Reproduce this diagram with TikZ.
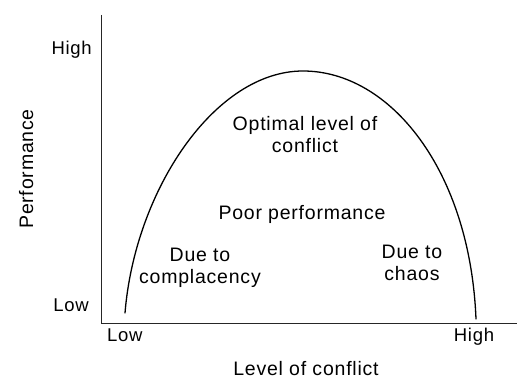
\documentclass[tikz,border=0pt]{standalone}
\usepackage{fontspec}
\setmainfont{Liberation Sans}[LetterSpace=4]
\begin{document}
\begin{tikzpicture}[x=1pt,y=-1pt,
  lbl/.style={inner sep=0pt,font=\fontsize{19.5}{22}\selectfont,align=center,anchor=base},
  tick/.style={inner sep=0pt,font=\fontsize{18.5}{22}\selectfont,anchor=base},
  axisline/.style={line width=0.9pt,black!85},
  curveline/.style={line width=1.3pt,black,line cap=round}]
\useasboundingbox (0,0) rectangle (523,379);
% axes
\coordinate (top) at (101,15);
\coordinate (origin) at (101,323);
\coordinate (right) at (517,323);
\draw[axisline] (top) -- (origin) -- (right);
% curve
\coordinate (cstart) at (125,313);
\coordinate (peak) at (303,71);
\coordinate (cend) at (476,319);
\draw[curveline] (cstart) .. controls (135,190) and (215,71) .. (peak)
  .. controls (390,71) and (470,170) .. (cend);
% axis labels
\node[tick,anchor=base east] (yhigh) at (92,55) {High};
\node[tick,anchor=base east] (ylow) at (89,312) {Low};
\node[tick,anchor=base west] (xlow) at (107,342) {Low};
\node[tick] (xhigh) at (474,342) {High};
\node[lbl] (xlabel) at (306,376) {Level of conflict};
\node[lbl,rotate=90] (ylabel) at (33,169) {Performance};
% inner labels (base anchor = last line)
\node[lbl] (optimal) at (305,153) {Optimal level of\\conflict};
\node[lbl] (poor) at (302,220) {Poor performance};
\node[lbl] (compl) at (200,284) {Due to\\complacency};
\node[lbl] (chaos) at (412,281) {Due to\\chaos};
\end{tikzpicture}
\end{document}
